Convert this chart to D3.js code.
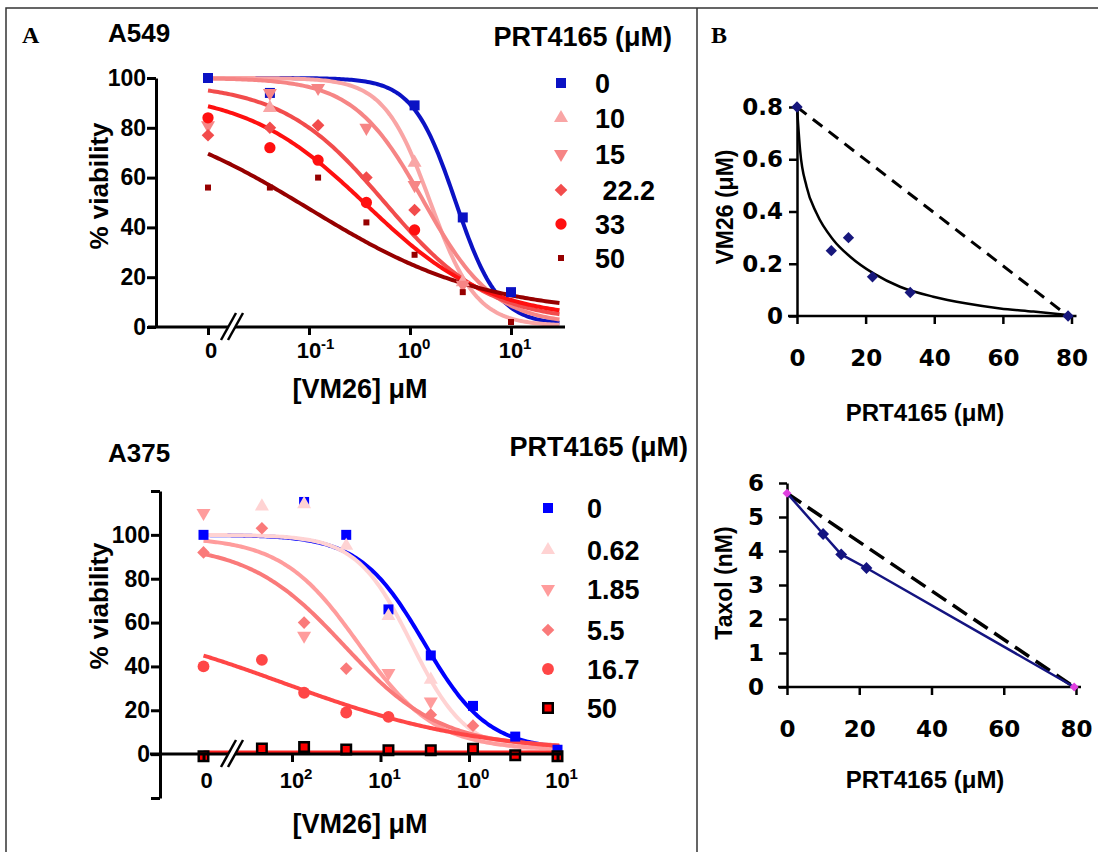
<!DOCTYPE html>
<html lang="en">
<head>
<meta charset="utf-8">
<title>PRT4165 + VM26 / Taxol</title>
<script src="https://cdn.jsdelivr.net/npm/d3@7/dist/d3.min.js"></script>
<style>
    body { margin: 0; background: #fff; }
    svg text {
        font-family: "Liberation Sans", Arial, Helvetica, sans-serif;
        font-weight: bold;
        fill: #000;
    }
    .letter { font-family: "Liberation Serif", "Times New Roman", serif; }
    svg text.wide { font-family: "DejaVu Sans", Verdana, sans-serif; }
</style>
</head>
<body>
<svg id="fig" width="1098" height="852"></svg>
<script>

// ---------- A549 : viability vs VM26, one series per PRT4165 dose ----------
var a549Conc = [0, 0.041, 0.123, 0.37, 1.11, 3.33, 10];
var a549Doses = ["0", "10", "15", "\u00a022.2", "33", "50"];
var a549_0  = [100, 94, null, null, 89, 44, 14];
var a549_10 = [null, 88, null, null, 66, 18, null];
var a549_15 = [81, 94, 96, 80, 57, 17, null];
var a549_22 = [77, 80, 81, 60, 47, null, null];
var a549_33 = [84, 72, 67, 50, 39, null, null];
var a549_50 = [56, 56, 60, 42, 29, 14, 2];
// fitted curves (top, bottom, log EC50, hill)
var a549Top    = [100, 100, 100, 98, 95, 90];
var a549Bottom = [1, 0.5, 1, 2, 3, 5];
var a549LogEC  = [0.45, 0.2, 0.135, -0.25, -0.43, -1.0];
var a549Hill   = [2.06, 1.9, 1.25, 0.85, 0.72, 0.5];

// ---------- A375 ----------
var a375Conc = [0, 0.00457, 0.0137, 0.041, 0.123, 0.37, 1.11, 3.33, 10];
var a375Doses = ["0", "0.62", "1.85", "5.5", "16.7", "50"];
var a375_0   = [100, null, 115, 100, 66, 45, 22, 8, 2];
var a375_062 = [null, 113, 114, 95, 63, 34, null, null, null];
var a375_185 = [110, null, 54, null, 37, 24, null, null, null];
var a375_55  = [92, 103, 60, 39, null, 18, 13, null, null];
var a375_167 = [40, 43, 28, 19, 17, null, null, null, null];
var a375_50  = [-1, 2.6, 3.3, 2.1, 1.8, 1.8, 2.5, -0.5, -1];
var a375Top    = [100, 100, 99, 96, 65, 1];
var a375Bottom = [2, 1, 2, 3, 0, 1];
var a375LogEC  = [-0.51, -0.65, -1.25, -1.41, -2.1, 0];
var a375Hill   = [1.2, 1.4, 1.0, 0.8, 0.39, 1];

// ---------- B : isobolograms ----------
var isoVmPrt = [0, 10, 15, 22, 33, 79];
var isoVm    = [0.8, 0.25, 0.3, 0.15, 0.09, 0];
var isoFitPrt = [0, 0.9, 2.8, 5.7, 10.6, 15.5, 22.3, 30, 39.7, 49.5, 59.2, 68.9, 78.6];
var isoFitVm  = [0.8, 0.635, 0.495, 0.393, 0.291, 0.227, 0.163, 0.112, 0.074, 0.048, 0.029, 0.017, 0.004];
var isoTaxPrt = [0, 10, 15, 22, 79.5];
var isoTax    = [5.7, 4.5, 3.9, 3.5, 0];

var svg = d3.select("#fig");

// frame
svg.append("path")
    .attr("d", "M6,852V8H1098M697,8V852")
    .attr("fill", "none")
    .attr("stroke", "#333")
    .attr("stroke-width", 1.5);

var sym = {
    square: function (a) { return d3.symbol(d3.symbolSquare, a)(); },
    triUp: function (a) { return d3.symbol(d3.symbolTriangle, a)(); },
    circle: function (a) { return d3.symbol(d3.symbolCircle, a)(); }
};

function markerPath(kind, area) {
    if (kind === "triDown") return sym.triUp(area);
    if (kind === "diamond") return sym.square(area);
    return sym[kind](area);
}
function markerRot(kind) {
    if (kind === "triDown") return " rotate(180)";
    if (kind === "diamond") return " rotate(45)";
    return "";
}

function fourPL(logx, p) {
    return p.bottom + (p.top - p.bottom) / (1 + Math.pow(10, (logx - p.logEC) * p.hill));
}

function drawDosePanel(o) {
    var g = svg.append("g");
    var x = o.x, y = o.y;
    var xPos = function (c) { return c === 0 ? x(o.zeroAt) : x(c); };

    // curves
    o.series.forEach(function (s) {
        var pts = d3.range(o.curveFrom, o.curveTo + 1e-9, 0.02).map(function (l) {
            return [Math.pow(10, l), fourPL(l, s.fit)];
        });
        g.append("path")
            .datum(pts)
            .attr("fill", "none")
            .attr("stroke", s.line || s.color)
            .attr("stroke-width", s.lineW || 4)
            .attr("d", d3.line().x(function (d) { return x(d[0]); }).y(function (d) { return y(d[1]); }));
    });

    // points
    o.series.forEach(function (s) {
        var pts = o.conc.map(function (c, i) { return {c: c, v: s.values[i]}; })
            .filter(function (d) { return d.v !== null; });
        g.selectAll(null).data(pts).enter().append("path")
            .attr("d", markerPath(s.kind, s.area))
            .attr("transform", function (d) {
                return "translate(" + xPos(d.c) + "," + y(d.v) + ")" + markerRot(s.kind);
            })
            .attr("fill", s.color)
            .attr("stroke", s.stroke || "none")
            .attr("stroke-width", s.strokeW || 0);
    });

    // y axis
    var ya = g.append("g")
        .attr("transform", "translate(" + o.yAxisX + ",0)")
        .call(d3.axisLeft(y).tickValues(o.yTicks).tickSize(9).tickSizeOuter(0).tickPadding(1)
            .tickFormat(function (d) { return (d < 0 || d > 100) ? "" : d; }));
    ya.select(".domain").attr("stroke-width", 3);
    ya.selectAll(".tick line").attr("stroke-width", 3);
    ya.selectAll("text").attr("font-size", 23).attr("font-family", null);

    // x axis
    var xa = g.append("g")
        .attr("transform", "translate(0," + o.xAxisY + ")")
        .call(d3.axisBottom(x).tickValues(o.xTicks.map(function (c) { return c === 0 ? o.zeroAt : c; }))
            .tickSize(8).tickFormat(""));
    xa.select(".domain").remove();
    xa.selectAll(".tick line").attr("stroke-width", 3);
    xa.append("line").attr("x1", o.xAxisFrom).attr("x2", o.xAxisTo)
        .attr("stroke", "#000").attr("stroke-width", 3);

    o.xTicks.forEach(function (c, i) {
        var tx = xPos(c);
        if (c === 0) {
            g.append("text").attr("x", tx + 3).attr("y", o.xLabelY)
                .attr("text-anchor", "middle").attr("font-size", 22).text("0");
        } else {
            g.append("text").attr("x", tx).attr("y", o.xLabelY)
                .attr("text-anchor", "middle").attr("font-size", 22).text("10");
            g.append("text").attr("x", tx + 12).attr("y", o.xLabelY - 9)
                .attr("font-size", 15).text(o.xSup[i]);
        }
    });

    // axis break
    var bx = o.breakX, by = o.xAxisY;
    g.append("path")
        .attr("d", "M" + (bx - 9) + "," + (by + 13) + "L" + (bx + 6) + "," + (by - 14) +
            "L" + (bx + 13) + "," + (by - 14) + "L" + (bx - 2) + "," + (by + 13) + "Z")
        .attr("fill", "#fff");
    [0, 7].forEach(function (dx) {
        g.append("line")
            .attr("x1", bx - 9 + dx).attr("y1", by + 13)
            .attr("x2", bx + 6 + dx).attr("y2", by - 14)
            .attr("stroke", "#000").attr("stroke-width", 2.5);
    });

    // titles
    g.append("text").attr("x", 108).attr("y", o.titleY).attr("font-size", 26).text(o.title);
    g.append("text")
        .attr("transform", "translate(108," + o.yLabelY + ") rotate(-90)")
        .attr("text-anchor", "middle").attr("font-size", 26).text("% viability");
    g.append("text").attr("x", 360).attr("y", o.xTitleY)
        .attr("text-anchor", "middle").attr("font-size", 27).text("[VM26] \u03bcM");

    // legend
    g.append("text").attr("x", o.legTitleX).attr("y", o.legTitleY)
        .attr("text-anchor", "end").attr("font-size", 27).text("PRT4165 (\u03bcM)");
    o.series.forEach(function (s, i) {
        var ly = o.legY[i];
        g.append("path")
            .attr("d", markerPath(s.kind, s.area))
            .attr("transform", "translate(" + o.legMarkX + "," + ly + ")" + markerRot(s.kind))
            .attr("fill", s.color)
            .attr("stroke", s.stroke || "none")
            .attr("stroke-width", s.strokeW || 0);
        g.append("text").attr("x", o.legTextX).attr("y", ly + 10)
            .attr("font-size", 27).text(o.doses[i]);
    });
}

function fitOf(top, bottom, ec, hill, i) {
    return {top: top[i], bottom: bottom[i], logEC: ec[i], hill: hill[i]};
}

// ---- panel A549 ----
drawDosePanel({
    title: "A549", titleY: 42,
    conc: a549Conc, doses: a549Doses,
    x: d3.scaleLog().domain([0.1, 10]).range([309, 511]),
    y: d3.scaleLinear().domain([0, 100]).range([327, 78]),
    zeroAt: 0.01, curveFrom: -2, curveTo: 1.48,
    yAxisX: 156, yTicks: [0, 20, 40, 60, 80, 100],
    xAxisY: 327, xAxisFrom: 148, xAxisTo: 565,
    xTicks: [0, 0.1, 1, 10], xSup: ["", "-1", "0", "1"], xLabelY: 358,
    breakX: 230, yLabelY: 186, xTitleY: 398,
    legTitleX: 672, legTitleY: 46, legMarkX: 561, legTextX: 595,
    legY: [83, 118, 154, 190, 224, 258],
    series: [
        {values: a549_0,  color: "#0b12c4", kind: "square",  area: 100, fit: fitOf(a549Top, a549Bottom, a549LogEC, a549Hill, 0)},
        {values: a549_10, color: "#f9a5a5", kind: "triUp",   area: 85,  fit: fitOf(a549Top, a549Bottom, a549LogEC, a549Hill, 1)},
        {values: a549_15, color: "#f68585", kind: "triDown", area: 85,  fit: fitOf(a549Top, a549Bottom, a549LogEC, a549Hill, 2)},
        {values: a549_22, color: "#f24c4c", kind: "diamond", area: 80,  fit: fitOf(a549Top, a549Bottom, a549LogEC, a549Hill, 3)},
        {values: a549_33, color: "#ff1010", kind: "circle",  area: 100, fit: fitOf(a549Top, a549Bottom, a549LogEC, a549Hill, 4)},
        {values: a549_50, color: "#960000", kind: "square",  area: 36,  fit: fitOf(a549Top, a549Bottom, a549LogEC, a549Hill, 5)}
    ]
});

// ---- panel A375 ----
drawDosePanel({
    title: "A375", titleY: 462,
    conc: a375Conc, doses: a375Doses,
    x: d3.scaleLog().domain([0.01, 10]).range([292, 557.5]),
    y: d3.scaleLinear().domain([-20, 120]).range([798, 491]),
    zeroAt: 0.001, curveFrom: -3, curveTo: 1.03,
    yAxisX: 160, yTicks: [-20, 0, 20, 40, 60, 80, 100, 120],
    xAxisY: 754, xAxisFrom: 150, xAxisTo: 563,
    xTicks: [0, 0.01, 0.1, 1, 10], xSup: ["", "2", "1", "0", "1"], xLabelY: 788,
    breakX: 230, yLabelY: 606, xTitleY: 833,
    legTitleX: 688, legTitleY: 456, legMarkX: 548, legTextX: 587,
    legY: [508, 550, 589, 630, 669, 708],
    series: [
        {values: a375_0,   color: "#0000ff", kind: "square",  area: 100, fit: fitOf(a375Top, a375Bottom, a375LogEC, a375Hill, 0)},
        {values: a375_062, color: "#ffd3d3", kind: "triUp",   area: 85,  fit: fitOf(a375Top, a375Bottom, a375LogEC, a375Hill, 1)},
        {values: a375_185, color: "#ff9c9c", kind: "triDown", area: 85,  fit: fitOf(a375Top, a375Bottom, a375LogEC, a375Hill, 2)},
        {values: a375_55,  color: "#fa7a7a", kind: "diamond", area: 80,  fit: fitOf(a375Top, a375Bottom, a375LogEC, a375Hill, 3)},
        {values: a375_167, color: "#ff4646", kind: "circle",  area: 110, fit: fitOf(a375Top, a375Bottom, a375LogEC, a375Hill, 4)},
        {values: a375_50,  color: "#ff0000", line: "#ff2020", lineW: 3, kind: "square", area: 90,
            stroke: "#000", strokeW: 2.5, fit: fitOf(a375Top, a375Bottom, a375LogEC, a375Hill, 5)}
    ]
});

// panel letters
svg.append("text").attr("class", "letter").attr("x", 22).attr("y", 43).attr("font-size", 24).text("A");
svg.append("text").attr("class", "letter").attr("x", 711).attr("y", 43).attr("font-size", 24).text("B");

// ---- B panels ----
function drawIsoAxes(g, x, y, o) {
    var ya = g.append("g").attr("transform", "translate(" + x(0) + ",0)")
        .call(d3.axisLeft(y).tickValues(o.yTicks).tickSize(8).tickSizeOuter(0)
            .tickPadding(o.yPad).tickFormat(o.yFmt));
    ya.select(".domain").attr("stroke-width", 2.5);
    ya.selectAll(".tick line").attr("stroke-width", 2.5);
    ya.selectAll("text").attr("class", "wide").attr("font-size", 23).attr("font-family", null);

    var xa = g.append("g").attr("transform", "translate(0," + y(0) + ")")
        .call(d3.axisBottom(x).tickValues([0, 20, 40, 60, 80]).tickSize(8).tickPadding(26));
    xa.select(".domain").remove();
    xa.append("line").attr("x1", o.xFrom).attr("x2", x(80) + 5).attr("stroke", "#000").attr("stroke-width", 2.5);
    xa.selectAll(".tick line").attr("stroke-width", 2.5);
    xa.selectAll("text").attr("class", "wide").attr("font-size", 23).attr("font-family", null);

    g.append("text").attr("transform", "translate(" + o.yLabX + "," + o.yLabY + ") rotate(-90)")
        .attr("text-anchor", "middle").attr("font-size", 23).text(o.yTitle);
    g.append("text").attr("x", 925).attr("y", o.xLabY)
        .attr("text-anchor", "middle").attr("font-size", 24).text("PRT4165 (\u03bcM)");
}

var diamond = function (a) { return d3.symbol(d3.symbolSquare, a)(); };

// B top: VM26 isobologram
var xB1 = d3.scaleLinear().domain([0, 80]).range([797, 1071.5]);
var yB1 = d3.scaleLinear().domain([0, 0.8]).range([316, 107]);
var gB1 = svg.append("g");
drawIsoAxes(gB1, xB1, yB1, {
    yTicks: [0, 0.2, 0.4, 0.6, 0.8], yPad: 6,
    yFmt: function (d) { return d === 0 ? "0" : d3.format(".1f")(d); },
    xFrom: 788, yLabX: 733, yLabY: 207, xLabY: 421, yTitle: "VM26 (\u03bcM)"
});
gB1.append("path")
    .datum([0, 1])
    .attr("d", d3.line().x(function (i) { return xB1([isoVmPrt[0], isoVmPrt[5]][i]); })
        .y(function (i) { return yB1([isoVm[0], isoVm[5]][i]); }))
    .attr("stroke", "#000").attr("stroke-width", 3).attr("stroke-dasharray", "12,8").attr("fill", "none");
gB1.append("path")
    .datum(isoFitPrt.map(function (p, i) { return [p, isoFitVm[i]]; }))
    .attr("d", d3.line().curve(d3.curveMonotoneX)
        .x(function (d) { return xB1(d[0]); }).y(function (d) { return yB1(d[1]); }))
    .attr("stroke", "#000").attr("stroke-width", 2.5).attr("fill", "none");
gB1.selectAll(null).data(isoVmPrt).enter().append("path")
    .attr("d", diamond(64))
    .attr("transform", function (p, i) { return "translate(" + xB1(p) + "," + yB1(isoVm[i]) + ") rotate(45)"; })
    .attr("fill", "#17177c");

// B bottom: Taxol isobologram
var xB2 = d3.scaleLinear().domain([0, 80]).range([787, 1076]);
var yB2 = d3.scaleLinear().domain([0, 6]).range([687, 483]);
var gB2 = svg.append("g");
drawIsoAxes(gB2, xB2, yB2, {
    yTicks: [0, 1, 2, 3, 4, 5, 6], yPad: 15,
    yFmt: d3.format("d"),
    xFrom: 778, yLabX: 732, yLabY: 583, xLabY: 788, yTitle: "Taxol (nM)"
});
var last = isoTaxPrt.length - 1;
gB2.append("path")
    .datum([0, last])
    .attr("d", d3.line().x(function (i) { return xB2(isoTaxPrt[i]); }).y(function (i) { return yB2(isoTax[i]); }))
    .attr("stroke", "#000").attr("stroke-width", 3.5).attr("stroke-dasharray", "17,8").attr("fill", "none");
gB2.append("path")
    .datum(isoTaxPrt.map(function (p, i) { return [p, isoTax[i]]; }))
    .attr("d", d3.line().x(function (d) { return xB2(d[0]); }).y(function (d) { return yB2(d[1]); }))
    .attr("stroke", "#141480").attr("stroke-width", 2.5).attr("fill", "none");
gB2.selectAll(null).data(isoTaxPrt).enter().append("path")
    .attr("d", function (p, i) { return diamond(i === 0 || i === last ? 40 : 70); })
    .attr("transform", function (p, i) { return "translate(" + xB2(p) + "," + yB2(isoTax[i]) + ") rotate(45)"; })
    .attr("fill", function (p, i) { return i === 0 || i === last ? "#e040e0" : "#141480"; });

</script>
</body>
</html>
